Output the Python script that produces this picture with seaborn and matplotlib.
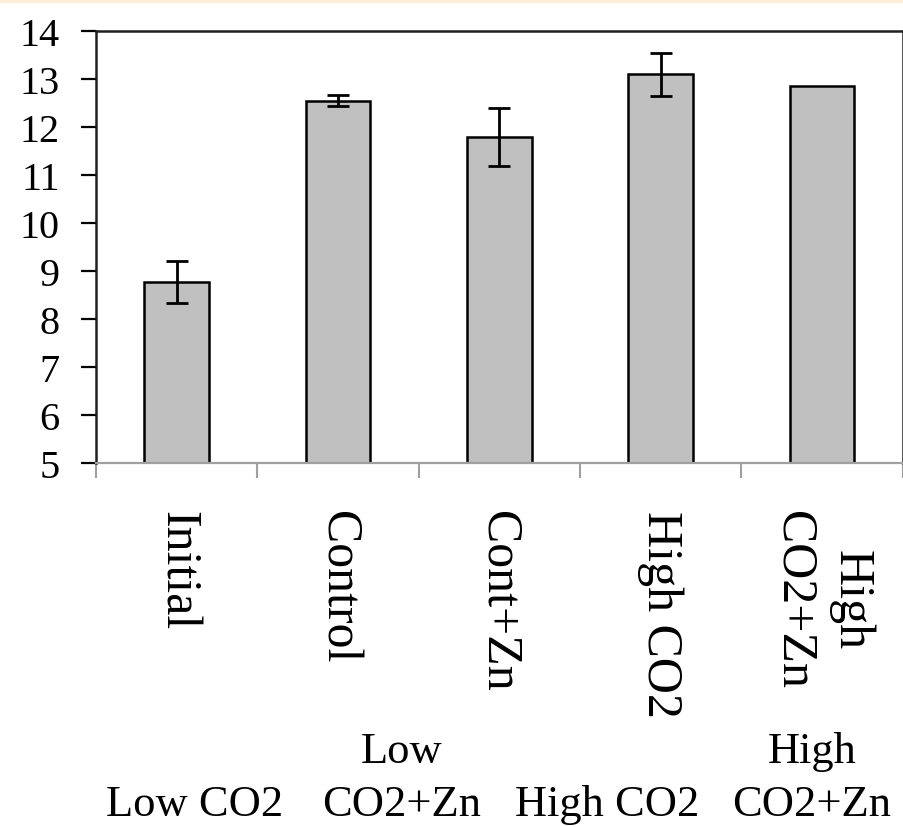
import numpy as np
import pandas as pd
import matplotlib
matplotlib.use("Agg")
import matplotlib.pyplot as plt
import seaborn as sns

categories = ["Initial", "Control", "Cont+Zn", "High CO2", "High\nCO2+Zn"]
values = [8.77, 12.55, 11.79, 13.10, 12.85]
errors = [0.43, 0.12, 0.60, 0.45, np.nan]
yticks = [5, 6, 7, 8, 9, 10, 11, 12, 13, 14]
group_labels = ["Low CO2", "Low\nCO2+Zn", "High CO2", "High\nCO2+Zn"]

sns.set_style("white")
plt.rcParams['font.family'] = ['Liberation Serif', 'DejaVu Serif']
plt.rcParams['text.color'] = 'black'
plt.rcParams['xtick.labelcolor'] = 'black'
plt.rcParams['ytick.labelcolor'] = 'black'

fig = plt.figure(figsize=(9.04, 8.28), dpi=100)
ax = fig.add_axes([96 / 904, 1 - 464 / 828, (902.5 - 96) / 904, (464 - 32) / 828])

df = pd.DataFrame({"cat": categories, "val": values})
sns.barplot(data=df, x="cat", y="val", color="#c0c0c0", width=0.4,
            edgecolor="black", linewidth=1.8, errorbar=None, ax=ax, saturation=1)

xs = np.arange(len(categories))
err = np.array(errors, dtype=float)
mask = ~np.isnan(err)
ax.errorbar(xs[mask], np.array(values)[mask], yerr=err[mask], fmt="none",
            ecolor="black", elinewidth=2.0, capsize=8, capthick=2.0)

ax.set_ylim(5, 14)
ax.set_xlim(-0.5, len(categories) - 0.5)
ax.set_yticks(yticks)
ax.set_yticklabels([str(t) for t in yticks], fontsize=29, color="black")
ax.tick_params(axis="y", direction="out", length=11, width=1.6, color="black", pad=15, left=True)

ax.set_xticks(xs)
ax.set_xticklabels(categories, rotation=270, fontsize=36, ha="center", va="top",
                   multialignment="center", linespacing=1.3, color="black")
ax.tick_params(axis="x", which="major", length=0, pad=34)
ax.set_xticks(np.arange(-0.5, len(categories), 1.0), minor=True)
ax.tick_params(axis="x", which="minor", direction="out", length=11, width=1.5,
               color="#a0a0a0", bottom=True)
ax.set_xlabel("")
ax.set_ylabel("")

for s in ["left", "top", "right"]:
    ax.spines[s].set_visible(True)
    ax.spines[s].set_color("#202020")
    ax.spines[s].set_linewidth(1.8)
ax.spines["bottom"].set_color("#a0a0a0")
ax.spines["bottom"].set_linewidth(1.6)

gx = [195 / 904, 402 / 904, 607 / 904, 812 / 904]
for x, lab in zip(gx, group_labels):
    fig.text(x, 0.004, lab, ha="center", va="bottom", fontsize=32, color="black",
             multialignment="center", linespacing=1.4)

fig.patches.append(plt.Rectangle((0, 1 - 3 / 828), 1, 3 / 828, transform=fig.transFigure,
                                 color="#fcefd6", zorder=0))

fig.savefig("out.png", dpi=100)
